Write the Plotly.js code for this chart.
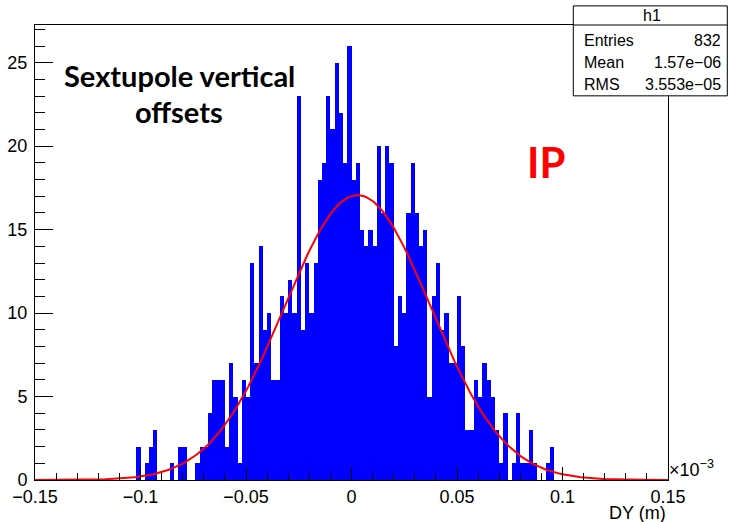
<!DOCTYPE html>
<html>
<head>
<meta charset="utf-8">
<script src="https://cdn.plot.ly/plotly-3.0.1.min.js"></script>
<style>html,body{margin:0;padding:0;background:#fff;}#chart{width:732px;height:522px;}</style>
</head>
<body>
<div id="chart"></div>
<script>
// Histogram h1: 150 bins on [-0.15, 0.15] (x in units of 1e-3 m); non-empty range starts at bin edge -0.102
var binStart = -0.102;
var binWidth = 0.002;
var binCounts = [
  2, 0, 1, 2, 3, 0, 0, 0, 1, 0, 2, 2, 0, 0, 1, 2, 2, 4,
  6, 6, 6, 2, 7, 5, 1, 6, 5,
  13, 7, 14, 9, 10, 6, 6, 11, 10, 12, 10,
  23, 9, 13, 10, 13, 18, 19, 23, 21, 25, 22,
  19, 26, 18, 19, 15, 14, 15, 14, 20, 16,
  20, 19, 8, 11, 10, 16, 19, 16, 14, 15,
  5, 11, 13, 9, 10, 7, 7, 11, 8,
  3, 3, 6, 5, 7, 6, 5, 3, 1,
  4, 0, 1, 4, 1, 1, 3, 1, 0, 0, 1, 2
];
// Gaussian fit parameters
var fitConstant = 17.07;
var fitMean = 0.0029;
var fitSigma = 0.0347;
var fitRange = [-0.15, 0.15];
// Stats box
var statsTitle = "h1";
var statsLabels = ["Entries", "Mean", "RMS"];
var statsValues = ["832", "1.57e\u221206", "3.553e\u221205"];
var xTitle = "DY (m)";
var labelLines = ["Sextupole vertical", "offsets"];
var ipLabel = "IP";

var barX = binCounts.map(function(c, i){ return binStart + binWidth * (i + 0.5); });

var fitX = [], fitY = [];
var nPts = 300;
for (var k = 0; k <= nPts; k++) {
  var xv = fitRange[0] + (fitRange[1] - fitRange[0]) * k / nPts;
  fitX.push(xv);
  fitY.push(fitConstant * Math.exp(-0.5 * Math.pow((xv - fitMean) / fitSigma, 2)));
}

var traces = [
  {type: 'bar', x: barX, y: binCounts, width: binWidth,
   marker: {color: '#0000ff', line: {width: 0}}, hoverinfo: 'skip'},
  {type: 'scatter', mode: 'lines', x: fitX, y: fitY,
   line: {color: '#ff0000', width: 2}, hoverinfo: 'skip'}
];

var tickFont = {family: 'Liberation Sans, Arial, sans-serif', size: 18, color: '#000'};
var statFont = {family: 'Liberation Sans, Arial, sans-serif', size: 16, color: '#000'};
var textFont = {family: 'Lato, Open Sans, sans-serif', size: 29, color: '#000'};

var annotations = [
  {xref: 'paper', yref: 'paper', x: 0.2275, y: 0.8899, xanchor: 'center', yanchor: 'middle',
   text: '<b>' + labelLines[0] + '</b>', showarrow: false, font: textFont},
  {xref: 'paper', yref: 'paper', x: 0.2275, y: 0.8106, xanchor: 'center', yanchor: 'middle',
   text: '<b>' + labelLines[1] + '</b>', showarrow: false, font: textFont},
  {xref: 'paper', yref: 'paper', x: 0.808, y: 0.6982, xanchor: 'center', yanchor: 'middle',
   text: '<b>' + ipLabel + '</b>', showarrow: false,
   font: {family: 'Lato, Open Sans, sans-serif', size: 42, color: '#ff0000'}},
  {xref: 'paper', yref: 'paper', x: 1, y: -0.073, xanchor: 'right', yanchor: 'middle',
   text: xTitle, showarrow: false, font: tickFont},
  {xref: 'paper', yref: 'paper', x: 1, y: 0.026, xanchor: 'left', yanchor: 'middle', xshift: -1,
   text: '\u00d710<sup>\u22123</sup>', showarrow: false, font: tickFont},
  {xref: 'paper', yref: 'paper', x: 0.9742, y: 1.0215, xanchor: 'center', yanchor: 'middle',
   text: statsTitle, showarrow: false, font: statFont}
];
var rowY = [0.9654, 0.9178, 0.870];
for (var r = 0; r < statsLabels.length; r++) {
  annotations.push({xref: 'paper', yref: 'paper', x: 0.8636, y: rowY[r], xanchor: 'left', yanchor: 'middle',
    text: statsLabels[r], showarrow: false, font: statFont});
  annotations.push({xref: 'paper', yref: 'paper', x: 1.0864, y: rowY[r], xanchor: 'right', yanchor: 'middle',
    text: statsValues[r], showarrow: false, font: statFont});
}

var shapes = [
  {type: 'rect', xref: 'paper', yref: 'paper', x0: 0.8504, x1: 1.0937, y0: 0.8443, y1: 1.042,
   fillcolor: '#ffffff', line: {color: '#000', width: 1}, layer: 'above'},
  {type: 'line', xref: 'paper', yref: 'paper', x0: 0.8504, x1: 1.0937, y0: 1.0, y1: 1.0,
   line: {color: '#000', width: 1}, layer: 'above'}
];

var layout = {
  width: 732, height: 522,
  margin: {l: 35, r: 64, t: 25, b: 42, pad: 0},
  paper_bgcolor: '#fff', plot_bgcolor: '#fff',
  showlegend: false, bargap: 0, hovermode: false,
  xaxis: {
    range: [-0.15, 0.15], tick0: -0.15, dtick: 0.05, tickmode: 'linear',
    ticks: 'inside', ticklen: 13, tickwidth: 1, tickcolor: '#000',
    minor: {dtick: 0.01, ticks: 'inside', ticklen: 7, tickwidth: 1, tickcolor: '#000', showgrid: false},
    showline: true, linecolor: '#000', linewidth: 1, mirror: true,
    showgrid: false, zeroline: false, tickfont: tickFont
  },
  yaxis: {
    range: [0, 27.26], tick0: 0, dtick: 5, tickmode: 'linear',
    ticks: 'inside', ticklen: 18, tickwidth: 1, tickcolor: '#000',
    minor: {dtick: 1, ticks: 'inside', ticklen: 10, tickwidth: 1, tickcolor: '#000', showgrid: false},
    showline: true, linecolor: '#000', linewidth: 1, mirror: true,
    showgrid: false, zeroline: false, tickfont: tickFont, ticklabelstandoff: 3
  },
  annotations: annotations,
  shapes: shapes
};

Plotly.newPlot('chart', traces, layout, {displayModeBar: false, staticPlot: true});
</script>
</body>
</html>
